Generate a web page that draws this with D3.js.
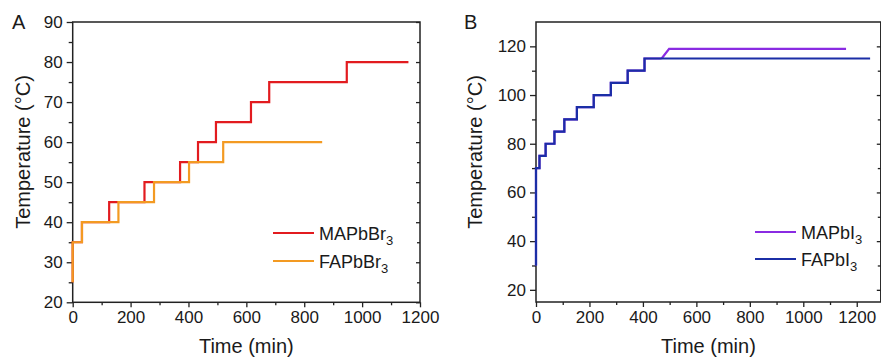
<!DOCTYPE html>
<html>
<head>
<meta charset="utf-8">
<script src="https://cdn.jsdelivr.net/npm/d3@7"></script>
<style>
  body { margin: 0; background: #fff; }
  text { font-family: Arial, "Liberation Sans", sans-serif; fill: #1a1a1a; }
</style>
</head>
<body>
<svg width="881" height="359"></svg>
<script>
// panel A: bromide perovskites (step-wise heating)
const mapbbr3Time = [0, 0, 32, 126, 248, 371, 433, 495, 616, 679, 947, 1160];
const mapbbr3Temp = [25, 35, 40, 45, 50, 55, 60, 65, 70, 75, 80, 80];
const fapbbr3Time = [0, 0, 32, 158, 281, 402, 520, 862];
const fapbbr3Temp = [25, 35, 40, 45, 50, 55, 60, 60];

// panel B: iodide perovskites
const fapbi3Time = [0, 0, 13, 36, 69, 106, 153, 216, 280, 343, 406, 1250];
const fapbi3Temp = [30, 70, 75, 80, 85, 90, 95, 100, 105, 110, 115, 115];
const mapbi3Time = [0, 0, 13, 36, 69, 106, 153, 216, 280, 343, 406, 470];
const mapbi3Temp = [30, 70, 75, 80, 85, 90, 95, 100, 105, 110, 115, 115];
const mapbi3RampTime = [470, 498, 1160];
const mapbi3RampTemp = [115, 119, 119];

const xTicks = [0, 200, 400, 600, 800, 1000, 1200];
const xMinor = [100, 300, 500, 700, 900, 1100];
const yTicksA = [20, 30, 40, 50, 60, 70, 80, 90];
const yMinorA = [25, 35, 45, 55, 65, 75, 85];
const yTicksB = [20, 40, 60, 80, 100, 120];
const yMinorB = [30, 50, 70, 90, 110];

const colRed = "#e21b1f", colOrange = "#f39a22", colPurple = "#8a2be2", colBlue = "#1b2ea6";

const svg = d3.select("svg");

function zip(t, v) {
    return t.map((d, i) => [d, v[i]]);
}

function panel(opt) {
    let x = d3.scaleLinear().domain(opt.xDomain).range(opt.xRange);
    let y = d3.scaleLinear().domain(opt.yDomain).range(opt.yRange);
    let g = svg.append("g");
    let left = opt.xRange[0], right = opt.xRange[1], top = opt.yRange[1], bottom = opt.yRange[0];

    // major / minor ticks
    let ax = g.append("g").attr("transform", `translate(0,${bottom})`)
        .call(d3.axisBottom(x).tickValues(xTicks).tickSize(5).tickPadding(4).tickFormat(d3.format("d")));
    g.append("g").attr("transform", `translate(0,${bottom})`)
        .call(d3.axisBottom(x).tickValues(xMinor).tickSize(3).tickFormat(""));
    let ay = g.append("g").attr("transform", `translate(${left},0)`)
        .call(d3.axisLeft(y).tickValues(opt.yTicks).tickSize(6).tickPadding(4).tickFormat(d3.format("d")));
    g.append("g").attr("transform", `translate(${left},0)`)
        .call(d3.axisLeft(y).tickValues(opt.yMinor).tickSize(4).tickFormat(""));
    g.append("g").attr("transform", `translate(${right},0)`)
        .call(d3.axisLeft(y).tickValues(opt.yTicks).tickSize(4).tickFormat(""));
    g.append("g").attr("transform", `translate(${right},0)`)
        .call(d3.axisLeft(y).tickValues(opt.yMinor).tickSize(3).tickFormat(""));
    g.selectAll(".domain").remove();
    g.selectAll(".tick line").attr("stroke", "#222").attr("stroke-width", 1.3);
    ax.selectAll("text").style("font-size", "17px").style("font-family", null);
    ay.selectAll("text").style("font-size", "17px").style("font-family", null);

    g.append("rect")
        .attr("x", left).attr("y", top)
        .attr("width", right - left).attr("height", bottom - top)
        .attr("fill", "none").attr("stroke", "#222").attr("stroke-width", 1.5);

    let step = d3.line().x(d => x(d[0])).y(d => y(d[1])).curve(d3.curveStepAfter);
    let lin = d3.line().x(d => x(d[0])).y(d => y(d[1]));
    opt.series.forEach(s => {
        g.append("path")
            .attr("d", (s.ramp ? lin : step)(s.points))
            .attr("fill", "none").attr("stroke", s.color)
            .attr("stroke-width", 2.2).attr("stroke-linejoin", "miter");
    });

    // legend
    opt.legend.forEach((l, i) => {
        let ly = opt.legendY + i * opt.legendGap;
        g.append("line")
            .attr("x1", opt.legendX).attr("x2", opt.legendX + 41)
            .attr("y1", ly).attr("y2", ly)
            .attr("stroke", l.color).attr("stroke-width", 2.2);
        let t = g.append("text").attr("x", opt.legendX + 46).attr("y", ly + 6.5)
            .style("font-size", "18px");
        t.append("tspan").text(l.name);
        t.append("tspan").text("3").attr("dy", 5).style("font-size", "13px");
    });

    g.append("text")
        .attr("x", (left + right) / 2).attr("y", 353)
        .attr("text-anchor", "middle").style("font-size", "20px")
        .text("Time (min)");
    g.append("text")
        .attr("transform", `translate(${opt.yTitleX},152) rotate(-90)`)
        .attr("text-anchor", "middle").style("font-size", "20px")
        .text("Temperature (°C)");
    g.append("text")
        .attr("x", opt.labelX).attr("y", 29)
        .style("font-size", "20px")
        .text(opt.label);
}

panel({
    label: "A", labelX: 12, yTitleX: 30,
    xDomain: [0, 1200], xRange: [72.7, 420],
    yDomain: [20, 90], yRange: [302.3, 22],
    yTicks: yTicksA, yMinor: yMinorA,
    series: [
        { points: zip(mapbbr3Time, mapbbr3Temp), color: colRed },
        { points: zip(fapbbr3Time, fapbbr3Temp), color: colOrange }
    ],
    legend: [
        { name: "MAPbBr", color: colRed },
        { name: "FAPbBr", color: colOrange }
    ],
    legendX: 273, legendY: 233, legendGap: 28
});

panel({
    label: "B", labelX: 464, yTitleX: 482,
    xDomain: [0, 1290], xRange: [536, 880.8],
    yDomain: [15, 130], yRange: [302, 22],
    yTicks: yTicksB, yMinor: yMinorB,
    series: [
        { points: zip(mapbi3Time, mapbi3Temp), color: colPurple },
        { points: zip(mapbi3RampTime, mapbi3RampTemp), color: colPurple, ramp: true },
        { points: zip(fapbi3Time, fapbi3Temp), color: colBlue }
    ],
    legend: [
        { name: "MAPbI", color: colPurple },
        { name: "FAPbI", color: colBlue }
    ],
    legendX: 755, legendY: 232, legendGap: 27
});
</script>
</body>
</html>
